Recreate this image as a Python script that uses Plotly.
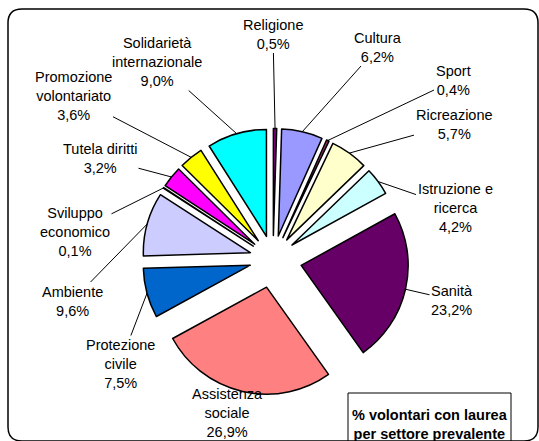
import math
import plotly.graph_objects as go

# sectors, clockwise from 12 o'clock
categories = ["Religione", "Cultura", "Sport", "Ricreazione", "Istruzione e<br>ricerca",
              "Sanità", "Assistenza<br>sociale", "Protezione<br>civile", "Ambiente",
              "Sviluppo<br>economico", "Tutela diritti", "Promozione<br>volontariato",
              "Solidarietà<br>internazionale"]
values = [0.5, 6.2, 0.4, 5.7, 4.2, 23.2, 26.9, 7.5, 9.6, 0.1, 3.2, 3.6, 9.0]
colors = ["#800080", "#9999FF", "#993366", "#FFFFCC", "#CCFFFF", "#660066", "#FF8080",
          "#0066CC", "#CCCCFF", "#000080", "#FF00FF", "#FFFF00", "#00FFFF"]
pulls = [0.22, 0.22, 0.22, 0.22, 0.22, 0.27, 0.27, 0.22, 0.22, 0.22, 0.22, 0.22, 0.22]

# label centres in pixels (layout only)
label_pos = [(273, 34), (378, 47), (453, 81), (454, 124), (455, 208), (452, 300),
             (227, 413), (120, 364), (72, 301), (75, 232), (100, 158), (73, 96), (157, 62)]

W, H = 539, 441
CX, CY, R = 273, 259, 107
half = R * (1 + max(pulls))
FONT = "Arial, Liberation Sans, sans-serif"

fig = go.Figure(go.Pie(
    labels=categories, values=values, sort=False, direction="clockwise", rotation=0,
    pull=pulls, textinfo="none", showlegend=False,
    marker=dict(colors=colors, line=dict(color="black", width=1.5)),
    domain=dict(x=[(CX - half) / W, (CX + half) / W],
                y=[1 - (CY + half) / H, 1 - (CY - half) / H]),
))

total = sum(values)
cum = 0
for name, v, p, (lx, ly) in zip(categories, values, pulls, label_pos):
    mid = (cum + v / 2) / total * 2 * math.pi
    cum += v
    rt = R * (1 + p)
    tx = CX + rt * math.sin(mid)
    ty = CY - rt * math.cos(mid)
    pct = f"{v:.1f}".replace(".", ",") + "%"
    text = name + "<br>" + pct
    if name.startswith("Assistenza"):
        fig.add_annotation(x=lx / W, y=1 - ly / H, xref="paper", yref="paper",
                           xanchor="center", yanchor="middle", text=text, showarrow=False)
    else:
        fig.add_annotation(x=tx / W, y=1 - ty / H, xref="paper", yref="paper",
                           ax=lx - tx, ay=ly - ty, text=text, showarrow=True,
                           arrowhead=0, arrowwidth=1, arrowcolor="black", standoff=0)

# title box
fig.add_shape(type="rect", xref="paper", yref="paper",
              x0=348 / W, x1=511 / W, y0=-0.05, y1=1 - 393 / H,
              line=dict(color="black", width=1), fillcolor="white")
fig.add_annotation(x=429.5 / W, y=1 - 424 / H, xref="paper", yref="paper", showarrow=False,
                   xanchor="center", yanchor="middle",
                   text="<b>% volontari con laurea<br>per settore prevalente</b>",
                   font=dict(size=14.5, color="black", family=FONT))

# rounded outer frame
x0, y0, x1, y1, rr = 8, 9, 538, 441, 14
def px(x):
    return x / W
def py(y):
    return 1 - y / H
path = (f"M {px(x0 + rr)},{py(y0)} L {px(x1 - rr)},{py(y0)} "
        f"Q {px(x1)},{py(y0)} {px(x1)},{py(y0 + rr)} L {px(x1)},{py(y1 - rr)} "
        f"Q {px(x1)},{py(y1)} {px(x1 - rr)},{py(y1)} L {px(x0 + rr)},{py(y1)} "
        f"Q {px(x0)},{py(y1)} {px(x0)},{py(y1 - rr)} L {px(x0)},{py(y0 + rr)} "
        f"Q {px(x0)},{py(y0)} {px(x0 + rr)},{py(y0)} Z")
fig.add_shape(type="path", path=path, xref="paper", yref="paper",
              line=dict(color="black", width=1.5))

fig.update_layout(
    width=W, height=H, margin=dict(l=0, r=0, t=0, b=0),
    paper_bgcolor="white", plot_bgcolor="white",
    font=dict(family=FONT, size=14.5, color="black"),
)
fig.write_html("out.html", config={"displayModeBar": False},
               post_script="document.body.style.margin='0';")
